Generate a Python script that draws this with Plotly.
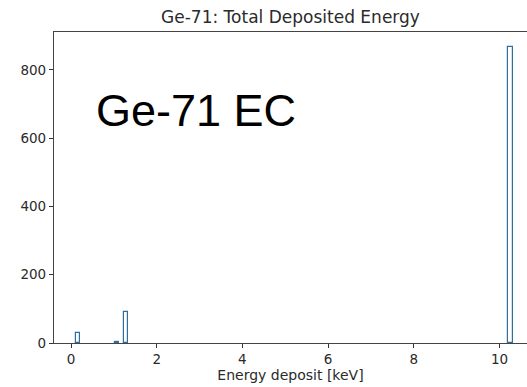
import plotly.graph_objects as go

# Histogram of total deposited energy per event (Ge-71 electron capture)
energy_kev = [0.16, 1.08, 1.29, 10.26]   # bin centres [keV]
counts = [29, 3, 91, 868]                # events per bin
bin_width = 0.102                        # keV

x_ticks = [0, 2, 4, 6, 8, 10]
y_ticks = [0, 200, 400, 600, 800]

fig = go.Figure()
fig.add_trace(go.Bar(
    x=energy_kev,
    y=counts,
    width=[bin_width] * len(counts),
    marker=dict(color="rgba(255,255,255,0)",
                line=dict(color="#2f6f9f", width=1.2)),
    showlegend=False,
))

tick_font = dict(family="DejaVu Sans", size=13.5, color="#2a2a2a")
label_font = dict(family="DejaVu Sans", size=14, color="#2a2a2a")

fig.update_layout(
    width=527, height=387,
    margin=dict(l=54, r=0, t=32, b=44),
    paper_bgcolor="white",
    plot_bgcolor="white",
    bargap=0,
    title=dict(text="Ge-71: Total Deposited Energy",
               x=0.5, xref="paper", xanchor="center",
               y=0.956, yref="container", yanchor="middle",
               font=dict(family="DejaVu Sans", size=17, color="#2a2a2a")),
    xaxis=dict(
        range=[-0.397, 10.642],
        tickvals=x_ticks,
        ticks="outside", ticklen=4, tickwidth=1, tickcolor="#333",
        showline=True, linecolor="#444", linewidth=1.2, mirror=True,
        showgrid=False, zeroline=False,
        tickfont=tick_font,
        title=dict(text="Energy deposit [keV]", font=label_font, standoff=3),
    ),
    yaxis=dict(
        range=[0, 911],
        tickvals=y_ticks,
        ticks="outside", ticklen=4, tickwidth=1, tickcolor="#333",
        showline=True, linecolor="#444", linewidth=1.2,
        showgrid=False, zeroline=False,
        tickfont=tick_font,
    ),
    annotations=[dict(
        text="Ge-71 EC",
        x=0.084, y=0.749, xref="paper", yref="paper",
        xanchor="left", yanchor="middle", showarrow=False,
        font=dict(family="Liberation Sans", size=45, color="black"),
    )],
)

fig.write_html("out.html")
